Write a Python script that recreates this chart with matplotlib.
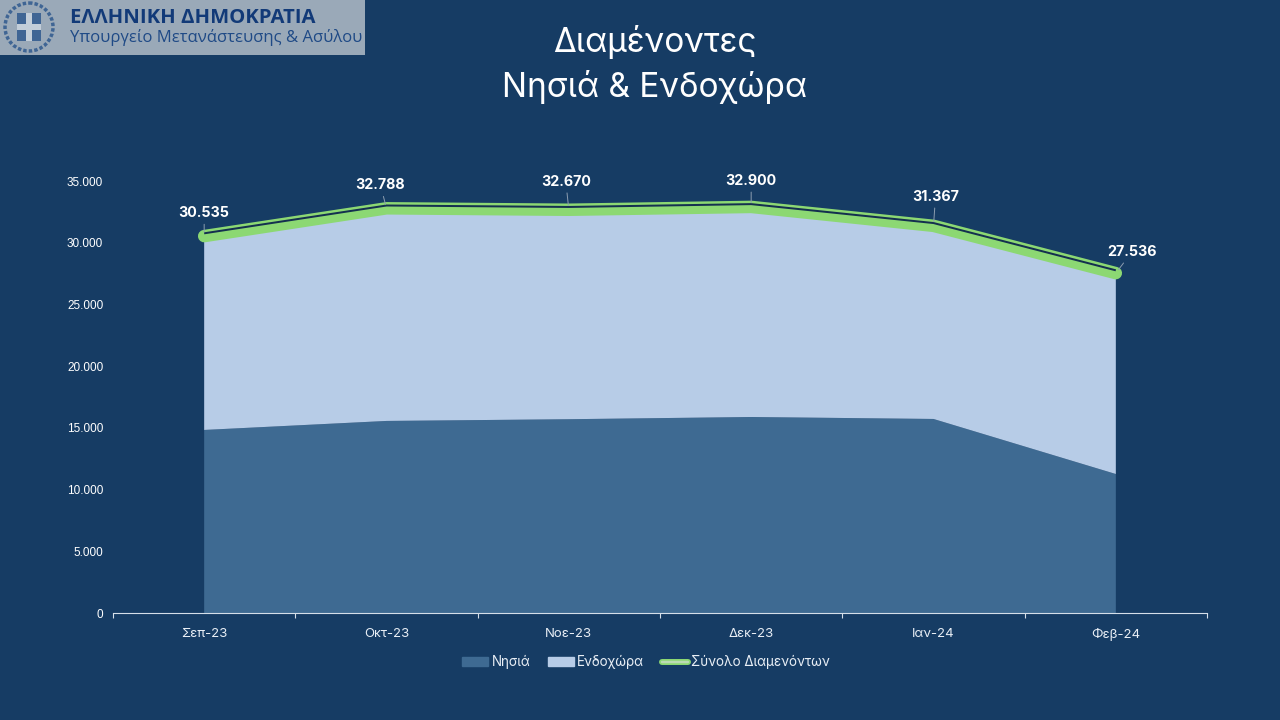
import matplotlib
matplotlib.use('Agg')
import matplotlib.pyplot as plt
import matplotlib.patheffects as pe
from matplotlib.lines import Line2D
from matplotlib.patches import Patch, Rectangle, Circle

## data
months = ['Σεπ-23', 'Οκτ-23', 'Νοε-23', 'Δεκ-23', 'Ιαν-24', 'Φεβ-24']
nisia = [14830, 15560, 15700, 15880, 15720, 11260]
endochora = [15705, 17228, 16970, 17020, 15647, 16276]
total = [30535, 32788, 32670, 32900, 31367, 27536]
total_labels = ['30.535', '32.788', '32.670', '32.900', '31.367', '27.536']
y_ticks = [0, 5000, 10000, 15000, 20000, 25000, 30000, 35000]
y_labels = ['0', '5.000', '10.000', '15.000', '20.000', '25.000', '30.000', '35.000']

# label offsets from the point, in pixels
label_off = [(0, 23), (-6, 23), (-3, 28), (0, 26), (2, 29), (16, 21)]

BG = '#163c64'
C_NISIA = '#3e6a92'
C_ENDO = '#b7cce7'
C_LINE = '#8cd873'
C_CORE = '#14304f'
W, H = 1280, 720
px = 0.72  # pixels to points at dpi 100

fig = plt.figure(figsize=(12.8, 7.2), dpi=100, facecolor=BG)
ax = fig.add_axes([113 / W, 1 - 613 / H, (1207 - 113) / W, (613 - 181) / H])
ax.set_facecolor(BG)

x = list(range(len(months)))
ax.stackplot(x, nisia, endochora, colors=[C_NISIA, C_ENDO], linewidth=0)
ax.plot(x, total, color=C_LINE, clip_on=False, zorder=4, solid_capstyle='round', solid_joinstyle='round',
        lw=12.5 * px,
        path_effects=[pe.Stroke(linewidth=12.5 * px, foreground=C_LINE, capstyle='round'),
                      pe.Stroke(linewidth=2 * px, foreground=C_CORE, offset=(0, 2.8 * px), capstyle='butt')])

for i in x:
    ax.annotate(total_labels[i], (i, total[i]), xytext=(label_off[i][0] * px, label_off[i][1] * px),
                textcoords='offset points', ha='center', va='center', color='white',
                fontsize=10.3, fontweight='bold', family='Inter', zorder=5,
                arrowprops=dict(arrowstyle='-', color='#8c9db0', lw=0.7, shrinkA=1, shrinkB=3))

ax.set_xlim(-0.5, 5.5)
ax.set_ylim(0, 35000)
ax.set_yticks(y_ticks)
ax.set_yticklabels(y_labels, fontsize=8.5, color='white', family='Liberation Sans')
ax.tick_params(axis='y', length=0, pad=7)
ax.set_xticks([i + 0.5 for i in range(-1, 6)])
ax.set_xticklabels([])
ax.set_xticks(x, minor=True)
ax.set_xticklabels(months, minor=True, fontsize=9.5, color='#e8eef5', family='Inter')
ax.tick_params(axis='x', which='major', length=5 * px, color='#d5dfe9', width=0.8)
ax.tick_params(axis='x', which='minor', length=0, pad=11)
for s in ['top', 'left', 'right']:
    ax.spines[s].set_visible(False)
ax.spines['bottom'].set_color('#d5dfe9')
ax.spines['bottom'].set_linewidth(0.8)

## legend
handles = [Patch(color=C_NISIA, label='Νησιά'),
           Patch(color=C_ENDO, label='Ενδοχώρα'),
           Line2D([], [], color='#bcdcb4', lw=2.5 * px, solid_capstyle='round', label='Σύνολο Διαμενόντων',
                  path_effects=[pe.Stroke(linewidth=6 * px, foreground=C_LINE), pe.Normal()])]
fig.legend(handles=handles, loc='center', bbox_to_anchor=(646 / W, 1 - 662 / H), ncol=3, frameon=False,
           labelcolor='#e8eef5', handlelength=1.95, handleheight=0.6, handletextpad=0.25,
           columnspacing=1.3, prop={'family': 'Inter', 'size': 9.7})

## title
fig.text(655 / W, 1 - 42 / H, 'Διαμένοντες', ha='center', va='center', color='white', fontsize=24, family='Inter')
fig.text(655 / W, 1 - 87 / H, 'Νησιά & Ενδοχώρα', ha='center', va='center', color='white', fontsize=24, family='Inter')

## logo
fig.add_artist(Rectangle((0, 1 - 55 / H), 365 / W, 55 / H, transform=fig.transFigure, color='#9aa9b8', lw=0))
logo = fig.add_axes([0, 1 - 55 / H, 60 / W, 55 / H], zorder=2)
logo.set_xlim(0, 60)
logo.set_ylim(55, 0)
logo.axis('off')
logo.add_patch(Circle((29, 27), 24, fc='none', ec='#3f6594', lw=2.5, ls=(0, (1, 0.6))))
logo.add_patch(Rectangle((17, 13), 24, 28, color='#3f6594', lw=0))
logo.add_patch(Rectangle((26, 13), 6, 28, color='#c3ced9', lw=0))
logo.add_patch(Rectangle((17, 24), 24, 6, color='#c3ced9', lw=0))
fig.text(70 / W, 1 - 18 / H, 'ΕΛΛΗΝΙΚΗ ΔΗΜΟΚΡΑΤΙΑ', ha='left', va='center', color='#123a78', fontsize=14.6, fontweight='bold', family='Open Sans')
fig.text(70 / W, 1 - 38 / H, 'Υπουργείο Μετανάστευσης & Ασύλου', ha='left', va='center', color='#1f4a86', fontsize=12, family='Open Sans')

fig.savefig('out.png', dpi=100, facecolor=BG)
